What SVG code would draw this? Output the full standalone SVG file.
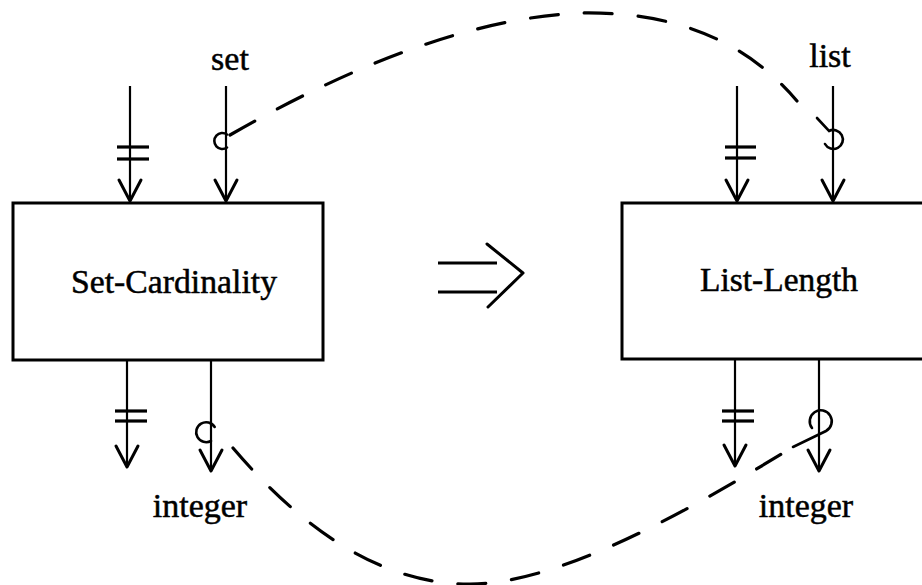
<svg xmlns="http://www.w3.org/2000/svg" width="922" height="585" viewBox="0 0 922 585">
<defs>
<style>
.box{fill:#fff;stroke:#000;stroke-width:3}
.ln{fill:none;stroke:#000;stroke-width:2.2}
.hd{fill:none;stroke:#000;stroke-width:3;stroke-linecap:round;stroke-linejoin:round}
.bar{stroke:#000;stroke-width:3.2}
.dash{fill:none;stroke:#000;stroke-width:3.2;stroke-dasharray:28 26;stroke-linecap:round}
.hook{fill:none;stroke:#000;stroke-width:2.6;stroke-linecap:round}
text{font-family:"Liberation Serif","Times New Roman",serif;font-size:34px;fill:#000;stroke:#000;stroke-width:0.5;text-anchor:middle}
</style>
</defs>
<rect width="922" height="585" fill="#fff"/>

<g id="set-cardinality">
<rect class="box" x="13" y="203" width="310" height="157"/>
<text x="174" y="293" textLength="206" lengthAdjust="spacingAndGlyphs">Set-Cardinality</text>
</g>

<g id="list-length">
<rect class="box" x="622" y="203" width="320" height="156"/>
<text x="779" y="291" textLength="158" lengthAdjust="spacingAndGlyphs">List-Length</text>
</g>

<g id="implies">
<line class="bar" x1="438" y1="263" x2="497" y2="263"/>
<line class="bar" x1="438" y1="292" x2="497" y2="292"/>
<polyline class="hd" points="487,244 523,273 488,307"/>
</g>

<g id="labels">
<text x="230" y="70">set</text>
<text x="830" y="67">list</text>
<text x="200" y="517">integer</text>
<text x="806" y="517">integer</text>
</g>

<g id="connectors">
<line class="ln" x1="130" y1="86" x2="130" y2="201"/>
<polyline class="hd" points="119,180 130,201 141,180"/>
<line class="bar" x1="117" y1="147" x2="149" y2="147"/>
<line class="bar" x1="117" y1="159" x2="149" y2="159"/>
<line class="ln" x1="226" y1="86" x2="226" y2="201"/>
<polyline class="hd" points="215,180 226,201 237,180"/>
<line class="ln" x1="127" y1="360" x2="127" y2="467"/>
<polyline class="hd" points="116,446 127,467 138,446"/>
<line class="bar" x1="115" y1="411" x2="147" y2="411"/>
<line class="bar" x1="115" y1="421" x2="147" y2="421"/>
<line class="ln" x1="211" y1="360" x2="211" y2="471"/>
<polyline class="hd" points="200,450 211,471 222,450"/>
<line class="ln" x1="737" y1="86" x2="737" y2="201"/>
<polyline class="hd" points="726,180 737,201 748,180"/>
<line class="bar" x1="725" y1="147" x2="756" y2="147"/>
<line class="bar" x1="725" y1="158" x2="756" y2="158"/>
<line class="ln" x1="833" y1="86" x2="833" y2="201"/>
<polyline class="hd" points="822,180 833,201 844,180"/>
<line class="ln" x1="735" y1="359" x2="735" y2="466"/>
<polyline class="hd" points="724,445 735,466 746,445"/>
<line class="bar" x1="722" y1="411" x2="754" y2="411"/>
<line class="bar" x1="722" y1="421" x2="754" y2="421"/>
<line class="ln" x1="819" y1="359" x2="819" y2="471"/>
<polyline class="hd" points="808,450 819,471 830,450"/>

<path class="hook" d="M227,134.5 A8 8 0 1 0 227,147.5"/>
<path class="hook" d="M214.7,427 A10 10 0 1 0 211,441"/>
<path class="hook" d="M817,118 L829,131 A9.5 9.5 0 1 1 825,144"/>
<path class="hook" d="M793,447 L826,431 A11 11 0 1 0 812,428"/>

<path class="dash" d="M230,135 Q430,20 580,13 Q720,10 797,101"/>
<path class="dash" d="M233,448 Q350,585 470,584 C560,584 690,510 793,447"/>
</g>
</svg>
